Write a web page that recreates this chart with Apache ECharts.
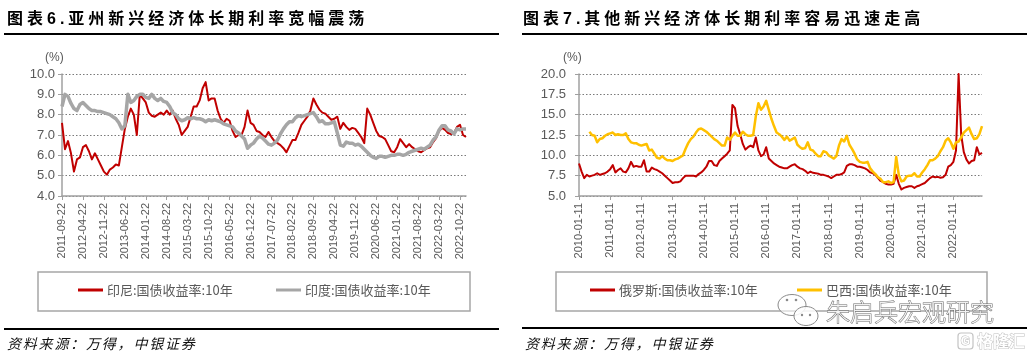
<!DOCTYPE html>
<html><head><meta charset="utf-8">
<script src="https://cdn.jsdelivr.net/npm/echarts@6/dist/echarts.min.js"></script>
<style>
html,body{margin:0;padding:0;background:#fff}
body{width:1033px;height:357px;overflow:hidden;position:relative}
#c{position:absolute;left:0;top:0;width:1033px;height:357px}
.t{position:absolute;top:7px;font-family:"Noto Sans CJK SC";font-weight:700;font-size:16px;line-height:20px;letter-spacing:4px;color:#000;white-space:nowrap;z-index:2}
.t .n{font-family:"Liberation Sans",Arial,sans-serif;font-weight:700}
.rule{position:absolute;height:2px;background:#000;z-index:2}
.src{position:absolute;top:334px;font-family:"Noto Sans CJK SC";font-style:italic;font-size:14px;line-height:18px;letter-spacing:1.8px;color:#111;white-space:nowrap;z-index:2}
</style>
</head><body>
<div id="c"></div>
<div class="t" style="left:7px">图表<span class="n">6.</span>亚州新兴经济体长期利率宽幅震荡</div>
<div class="t" style="left:523px">图表<span class="n">7.</span>其他新兴经济体长期利率容易迅速走高</div>
<div class="rule" style="left:4px;top:33px;width:495px"></div>
<div class="rule" style="left:522px;top:33px;width:505px"></div>
<div class="rule" style="left:4px;top:328px;width:495px"></div>
<div class="rule" style="left:522px;top:327px;width:505px"></div>
<div class="src" style="left:7px">资料来源：万得，中银证券</div>
<div class="src" style="left:525px">资料来源：万得，中银证券</div>
<script>
// ---------- data ----------
const seriesNames = ['印尼:国债收益率:10年', '印度:国债收益率:10年', '俄罗斯:国债收益率:10年', '巴西:国债收益率:10年'];

function monthCats(y, m, d, n) {
  const out = [];
  for (let k = 0; k < n; k++) {
    const mm = (m - 1 + k) % 12 + 1, yy = y + Math.floor((m - 1 + k) / 12);
    out.push(yy + '-' + String(mm).padStart(2, '0') + '-' + d);
  }
  return out;
}
// monthly categories (2011-09-22 … 2022-12-22) and (2010-01-11 … 2022-12-11)
const catsAsia = monthCats(2011, 9, '22', 136);
const catsOther = monthCats(2010, 1, '11', 156);

const indonesia = [
  7.6, 6.3, 6.7, 6.1, 5.2, 5.8, 5.9, 6.4, 6.5, 6.2,
  5.8, 6.1, 5.8, 5.5, 5.2, 5.05, 5.3, 5.4, 5.55, 5.5,
  6.4, 7.3, 7.9, 8.3, 8.0, 7.0, 9.0, 8.8, 8.6, 8.1,
  7.95, 7.9, 8.0, 8.1, 8.0, 8.2, 8.0, 8.2, 7.8, 7.5,
  7.0, 7.2, 7.4, 7.9, 8.4, 8.4, 8.7, 9.3, 9.6, 8.7,
  8.8, 8.8, 8.2, 7.8, 7.6, 7.8, 7.7, 7.2, 6.9, 7.0,
  7.0, 7.4, 8.2, 7.6, 7.5, 7.2, 7.15, 7.0, 6.9, 7.15,
  6.9, 6.7, 6.6, 6.5, 6.35, 6.15, 6.45, 6.75, 6.75, 7.1,
  7.5, 7.7, 7.9, 8.2, 8.8, 8.5, 8.25, 8.1, 8.05, 7.9,
  7.75, 7.8, 7.9, 7.3, 7.6, 7.4, 7.25, 7.35, 7.3, 7.1,
  6.9, 6.6, 8.3, 8.0, 7.6, 7.2, 6.95, 6.9, 6.8, 6.5,
  6.2, 6.15, 6.4, 6.8, 6.6, 6.4, 6.55, 6.4, 6.3, 6.2,
  6.15, 6.25, 6.35, 6.4, 6.65, 6.85, 7.2, 7.35, 7.25, 7.1,
  7.05, 7.1, 7.4, 7.5, 7.0, 6.9
];
const india = [
  8.4, 9.0, 8.9, 8.55, 8.3, 8.2, 8.5, 8.6, 8.45, 8.3,
  8.2, 8.2, 8.15, 8.15, 8.1, 8.05, 8.0, 7.9, 7.8, 7.6,
  7.3, 7.45, 9.0, 8.6, 8.7, 8.9, 9.0, 9.0, 8.85, 8.8,
  9.0, 8.8, 8.7, 8.8, 8.65, 8.6, 8.4, 8.1, 8.0, 7.8,
  7.7, 7.75, 7.85, 7.8, 7.85, 7.8, 7.8, 7.75, 7.65, 7.75,
  7.7, 7.75, 7.7, 7.65, 7.55, 7.5, 7.45, 7.4, 7.2, 7.1,
  6.95, 6.8, 6.35, 6.5, 6.6, 6.8, 6.95, 6.85, 6.7, 6.55,
  6.5, 6.6, 6.75, 7.05, 7.3, 7.5, 7.65, 7.65, 7.85, 7.95,
  7.9, 7.95, 8.0, 8.05, 8.1, 7.9, 7.65, 7.7, 7.55, 7.55,
  7.6, 7.65, 7.1, 6.5, 6.45, 6.65, 6.6, 6.6, 6.5, 6.55,
  6.45, 6.3, 6.15, 6.0, 5.9, 5.85, 5.95, 5.95, 5.9, 5.95,
  6.0, 6.0, 6.05, 6.05, 6.0, 6.05, 6.15, 6.2, 6.25, 6.3,
  6.35, 6.3, 6.4, 6.5, 6.75, 6.9, 7.25, 7.45, 7.45, 7.25,
  7.2, 7.05, 7.3, 7.25, 7.3, 7.3
];
const russia = [
  9.0, 8.0, 7.2, 7.6, 7.4, 7.5, 7.6, 7.8, 7.6, 7.7,
  7.8, 8.0, 8.3, 8.8, 7.9, 8.2, 8.4, 8.0, 7.9, 8.4,
  9.2, 8.6, 8.7, 8.6, 8.6, 9.4, 8.0, 8.0, 8.5, 8.3,
  8.2, 8.0, 7.8, 7.5, 7.2, 6.9, 6.6, 6.7, 6.7, 6.8,
  7.2, 7.5, 7.5, 7.5, 7.5, 7.4, 7.7, 7.9, 8.2, 8.6,
  9.3, 9.3, 8.8, 8.7, 9.3, 9.6, 9.9, 10.2, 10.6, 16.2,
  15.8, 13.6, 12.6, 11.4, 10.7, 11.0, 11.2, 11.0, 12.2, 10.6,
  9.9, 10.1, 11.0, 9.6, 9.3, 9.0, 8.8, 8.6, 8.5, 8.4,
  8.4, 8.6, 8.8, 8.9, 8.6, 8.4, 8.3, 8.1, 7.8, 8.0,
  7.85, 7.8, 7.75, 7.6, 7.6, 7.5, 7.4, 7.2, 7.4, 7.6,
  7.6, 7.7, 7.9, 8.7, 8.9, 8.9, 8.8, 8.6, 8.6, 8.5,
  8.4, 8.2, 7.9, 7.8, 7.6, 7.2, 6.85, 6.7, 6.5, 6.4,
  6.4, 6.5, 7.6, 6.5, 5.8, 6.0, 6.1, 6.2, 6.2, 6.0,
  6.2, 6.3, 6.45, 6.6, 6.9, 7.2, 7.4, 7.3, 7.35, 7.25,
  7.3, 7.6, 8.6, 8.8, 9.2, 10.6, 20.0, 12.5, 10.4, 9.5,
  9.0, 9.3, 9.4, 11.0, 10.1, 10.3
];
const brazil = [
  null, null, null, null, 12.9, 12.5, 12.4, 11.6, 12.0, 12.1,
  12.4, 12.6, 12.7, 12.8, 12.5, 12.6, 12.5, 12.5, 12.7, 12.0,
  11.6, 11.5, 11.5, 11.3, 11.2, 11.3, 11.4, 10.6, 10.7, 10.2,
  9.7, 9.6, 9.9, 9.6, 9.4, 9.4, 9.3, 9.5, 9.6, 9.8,
  10.0, 10.8, 11.5, 12.0, 12.3, 12.8, 13.2, 13.3, 13.1, 12.9,
  12.6, 12.3, 12.0, 11.8, 11.5, 11.2, 11.2, 12.2, 11.9, 12.4,
  12.8, 12.4, 12.4, 12.9, 12.6, 12.4, 12.4, 12.5, 14.8, 16.4,
  15.6, 16.0, 16.7, 15.6, 14.5, 13.6, 12.8, 12.6, 12.3, 11.9,
  12.3, 11.8, 12.0, 12.2, 11.3, 11.0, 10.8, 10.9, 11.6, 10.7,
  10.6, 10.2, 9.9, 9.9, 10.5, 10.4, 10.0, 9.8, 9.6, 9.9,
  11.2, 12.0, 11.7, 12.4, 11.3, 10.8, 10.2, 9.5, 9.2, 9.1,
  9.1, 9.2, 8.4, 8.0, 7.7, 7.3, 7.1, 6.7, 6.7, 6.8,
  6.6, 6.7, 9.8, 7.6, 6.8, 6.9, 7.4, 7.5, 7.5, 7.8,
  7.4, 7.4, 7.9, 8.3, 8.8, 9.4, 9.4, 9.6, 9.9, 10.5,
  11.0, 11.8, 12.1, 11.6, 10.8, 11.6, 11.7, 12.2, 12.8, 13.1,
  13.4, 12.6, 12.0, 12.1, 12.6, 13.6
];

// ---------- styling ----------
const AX = '#a0a0a0', LBL = '#595959', NUMF = '"Liberation Sans", Arial, sans-serif';
const CJK = '"Noto Sans CJK SC", sans-serif';

function xAxis(grid, data, every) {
  return {
    type: 'category', gridIndex: grid, data: data, boundaryGap: false,
    axisLine: { lineStyle: { color: AX, width: 1.5 } },
    axisTick: { show: true, interval: every, length: 4, lineStyle: { color: AX, width: 1 } },
    axisLabel: { interval: every, rotate: 90, fontSize: 11, color: LBL, fontFamily: NUMF, margin: 7 },
    splitLine: { show: false }
  };
}
function yAxis(grid, min, max, step, margin) {
  return {
    type: 'value', gridIndex: grid, min: min, max: max, interval: step,
    axisLine: { show: true, lineStyle: { color: AX, width: 1.5 } },
    axisTick: { show: true, length: 4, lineStyle: { color: AX, width: 1 } },
    axisLabel: { formatter: v => v.toFixed(1), fontSize: 13, color: LBL, fontFamily: NUMF, margin: margin },
    splitLine: { show: true, lineStyle: { color: '#7a7a7a', width: 1, type: [1.5, 2] } }
  };
}
function legend(name, left, color) {
  return {
    data: [{ name: name, itemStyle: { color: color } }], left: left, top: 283.5, padding: 0,
    icon: 'rect', itemWidth: 25, itemHeight: 3, itemGap: 0, selectedMode: false,
    textStyle: { fontSize: 13, color: LBL, fontFamily: CJK, padding: [0, 0, 0, -1] }
  };
}
function line(name, xi, data, color, width, z) {
  return { name: name, type: 'line', xAxisIndex: xi, yAxisIndex: xi, data: data, symbol: 'none',
    showSymbol: false, connectNulls: false, z: z, color: color,
    lineStyle: { color: color, width: width, join: 'round' } };
}

const chart = echarts.init(document.getElementById('c'), null, { renderer: 'canvas' });
chart.setOption({
  animation: false,
  backgroundColor: '#fff',
  grid: [
    { left: 62, top: 74, width: 404, height: 122 },
    { left: 579, top: 74, width: 403, height: 122 }
  ],
  xAxis: [xAxis(0, catsAsia, 6), xAxis(1, catsOther, 11)],
  yAxis: [yAxis(0, 4, 10, 1, 7), yAxis(1, 5, 20, 2.5, 13)],
  legend: [
    legend(seriesNames[0], 78, '#C00000'),
    legend(seriesNames[1], 276, '#A6A6A6'),
    legend(seriesNames[2], 590, '#C00000'),
    legend(seriesNames[3], 797, '#FFC000')
  ],
  series: [
    line(seriesNames[0], 0, indonesia, '#C00000', 2, 3),
    line(seriesNames[1], 0, india, '#A6A6A6', 3.5, 4),
    line(seriesNames[2], 1, russia, '#C00000', 2, 3),
    line(seriesNames[3], 1, brazil, '#FFC000', 2.5, 4)
  ],
  graphic: [
    { type: 'text', z: 10, style: { text: '(%)', x: 45, y: 58, textVerticalAlign: 'middle', font: '12px ' + NUMF, fill: LBL } },
    { type: 'text', z: 10, style: { text: '(%)', x: 563, y: 58, textVerticalAlign: 'middle', font: '12px ' + NUMF, fill: LBL } },
    { type: 'rect', z: 1, shape: { x: 38, y: 272, width: 432, height: 39 }, style: { fill: 'none', stroke: '#a6a6a6', lineWidth: 1.5 } },
    { type: 'rect', z: 1, shape: { x: 556, y: 272, width: 431, height: 39 }, style: { fill: 'none', stroke: '#a6a6a6', lineWidth: 1.5 } },
    // watermark: wechat bubbles
    { type: 'ellipse', z: 20, shape: { cx: 792, cy: 305, rx: 14, ry: 10.5 }, style: { fill: 'rgba(255,255,255,0.6)', stroke: '#8a8a8a', lineWidth: 1 } },
    { type: 'ellipse', z: 21, shape: { cx: 806, cy: 316, rx: 12, ry: 9.5 }, style: { fill: 'rgba(255,255,255,0.85)', stroke: '#8a8a8a', lineWidth: 1 } },
    { type: 'circle', z: 22, shape: { cx: 787, cy: 300, r: 1.3 }, style: { fill: '#8a8a8a' } },
    { type: 'circle', z: 22, shape: { cx: 796, cy: 300, r: 1.3 }, style: { fill: '#8a8a8a' } },
    { type: 'circle', z: 22, shape: { cx: 802, cy: 315, r: 1.2 }, style: { fill: '#8a8a8a' } },
    { type: 'circle', z: 22, shape: { cx: 810, cy: 315, r: 1.2 }, style: { fill: '#8a8a8a' } },
    { type: 'text', z: 22, style: { text: '朱启兵宏观研究', x: 826, y: 312, textVerticalAlign: 'middle', font: '300 24px ' + CJK, fill: 'rgba(255,255,255,0.9)', stroke: '#6a6a6a', lineWidth: 1 } },
    // watermark: 格隆汇 logo
    { type: 'rect', z: 22, shape: { x: 958, y: 333, width: 15, height: 16, r: 3 }, style: { fill: '#fff', stroke: '#c4c4c4', lineWidth: 1.2 } },
    { type: 'text', z: 23, style: { text: 'G', x: 965.5, y: 341.5, textAlign: 'center', textVerticalAlign: 'middle', font: 'bold 12px ' + NUMF, fill: '#fff', stroke: '#b8b8b8', lineWidth: 1 } },
    { type: 'text', z: 22, style: { text: '格隆汇', x: 977, y: 341, textVerticalAlign: 'middle', font: 'bold 16px ' + CJK, fill: '#fff', stroke: '#c0c0c0', lineWidth: 1 } }
  ]
});
</script>
</body></html>
